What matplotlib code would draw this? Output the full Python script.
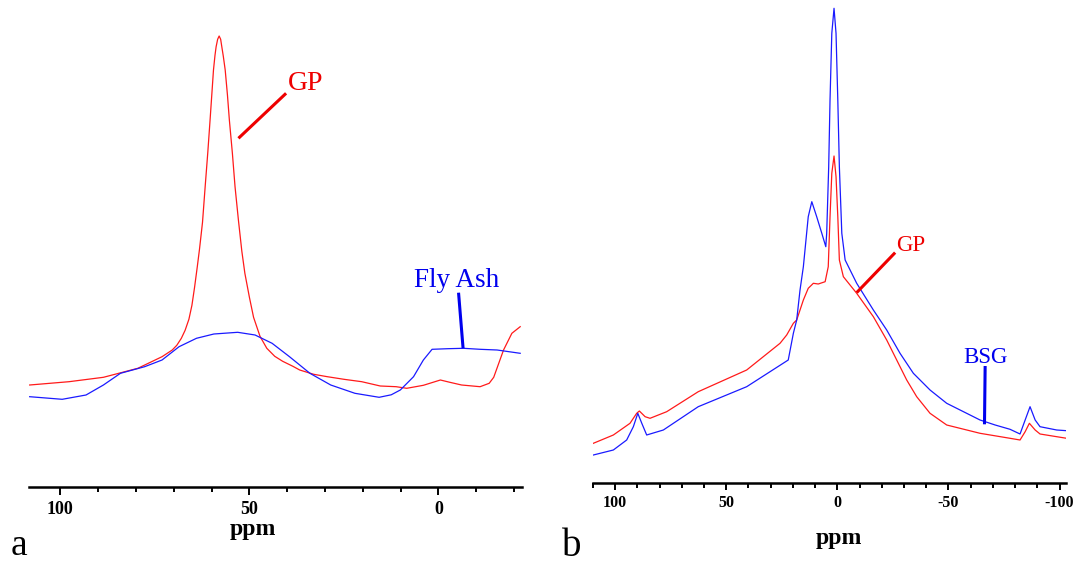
import matplotlib.pyplot as plt
from matplotlib.ticker import MultipleLocator, FixedLocator

plt.rcParams['font.family'] = ['Liberation Serif', 'DejaVu Serif']

# ---- panel a : GP vs fly ash (ppm, intensity a.u.) ----
gp_a_ppm = [108.1, 97.7, 88.6, 79.5, 73.1, 70.4, 69.2, 68.0, 67.0, 66.0, 65.2, 64.5, 63.8, 63.2, 62.4,
            61.7, 61.0, 60.4, 59.9, 59.5, 59.1, 58.8, 58.4, 58.0, 57.6, 57.3, 56.9, 56.4, 55.8,
            55.3, 54.5, 53.8, 52.9, 52.0, 51.2, 50.0, 48.9, 47.2, 45.4, 43.3, 41.2, 38.5, 36.7,
            33.0, 29.4, 25.0, 20.3, 15.4, 11.2, 8.4, 4.0, -0.5, -3.0, -6.1, -11.0, -13.4, -14.6,
            -17.2, -19.4, -21.6]
gp_a_int = [102.3, 105.6, 110.0, 119.0, 130.6, 137.3, 142.0, 149.0, 157.0, 168.0, 182.0, 200.0, 220.0, 238.0, 265.0,
            300.6, 335.0, 367.3, 395.0, 417.3, 432.0, 440.6, 448.0, 451.3, 448.0, 440.6, 431.0, 417.3, 392.0,
            367.3, 334.0, 300.6, 267.0, 236.0, 214.0, 190.0, 170.0, 151.0, 139.0, 131.0, 126.0, 121.0, 117.3,
            113.0, 110.6, 108.0, 105.6, 101.3, 100.6, 99.0, 102.0, 107.3, 105.0, 102.3, 100.6, 104.0, 110.0,
            137.3, 154.0, 160.6]

fa_ppm = [108.1, 99.5, 93.2, 88.6, 84.1, 77.7, 73.1, 68.6, 64.0, 59.4, 53.1, 48.5, 44.0,
          39.4, 34.0, 28.5, 22.1, 15.7, 12.5, 10.1, 6.6, 4.0, 1.7, -2.5, -6.6, -11.0, -15.5, -21.6]
fa_int = [90.6, 88.0, 92.3, 102.3, 114.0, 120.6, 127.3, 140.6, 149.0, 153.3, 155.0, 152.3, 144.0,
          130.6, 114.0, 102.3, 94.0, 90.0, 92.5, 97.3, 110.6, 127.3, 138.0, 138.6, 139.0, 138.0, 137.3, 134.0]

# ---- panel b : GP vs BSG ----
gp_b_ppm = [109.8, 100.8, 93.3, 90.3, 89.1, 86.5, 84.3, 76.8, 62.6, 40.8, 25.8, 22.8, 19.8,
            18.3, 15.3, 13.1, 10.8, 8.6, 5.5, 4.1, 3.3, 2.5, 1.5, 0.6, -0.2, -0.9, -2.7, -8.7,
            -16.2, -22.2, -26.7, -31.2, -35.7, -41.7, -49.2, -64.2, -77.7, -82.2, -84.5, -86.4,
            -89.0, -91.2, -98.7, -103.2]
gp_b_int = [39.2, 47.5, 59.2, 69.2, 71.5, 65.8, 64.2, 70.8, 90.8, 112.5, 139.2, 147.5, 159.2,
            162.5, 182.5, 194.2, 199.2, 198.5, 200.8, 215.8, 265.8, 309.2, 326.5, 305.8, 265.8, 222.5, 205.8, 189.2,
            165.8, 142.5, 122.5, 102.5, 85.8, 69.2, 57.5, 49.2, 44.2, 42.5, 50.8, 59.2,
            52.5, 48.5, 45.8, 44.2]

bsg_ppm = [109.8, 100.8, 94.8, 91.8, 89.8, 88.0, 85.8, 78.3, 62.6, 40.8, 22.1, 19.8, 18.3, 16.8,
           15.3, 13.1, 11.5, 9.3, 7.0, 5.2, 4.8, 3.9, 3.3, 2.5, 1.5, 0.6, -0.2, -0.9, -2.0,
           -3.5, -8.7, -16.2, -22.2, -28.2, -34.2, -41.7, -49.2, -64.2, -71.0, -77.7, -82.2,
           -84.5, -86.7, -89.0, -91.2, -98.7, -103.2]
bsg_int = [27.5, 32.5, 42.5, 55.8, 69.2, 59.2, 47.5, 52.5, 75.8, 95.8, 122.5, 149.2, 162.5, 192.5,
           215.8, 265.8, 280.8, 265.8, 249.2, 235.8, 249.2, 315.8, 382.5, 449.2, 474.2, 449.2, 382.5, 315.8, 249.2,
           222.5, 199.2, 172.5, 152.5, 129.2, 109.2, 92.5, 79.2, 62.5, 57.5, 53.2, 48.5,
           62.5, 75.8, 62.5, 55.8, 52.5, 51.8]

RED = '#ff1a1a'
BLUE = '#1a1aff'

W, H = 1075, 564
fig = plt.figure(figsize=(W / 100, H / 100), dpi=100)


def px_axes(x0, x1, ytop, ybot):
    return fig.add_axes([x0 / W, 1 - ybot / H, (x1 - x0) / W, (ybot - ytop) / H])


def style_axis(ax, ticks, size, major_len, minor_len):
    for s in ['left', 'right', 'top']:
        ax.spines[s].set_visible(False)
    ax.spines['bottom'].set_linewidth(1.8)
    ax.set_yticks([])
    ax.xaxis.set_major_locator(FixedLocator(ticks))
    ax.xaxis.set_minor_locator(MultipleLocator(10))
    ax.set_xticklabels([str(t) for t in ticks], fontweight='bold', fontsize=size)
    ax.tick_params(axis='x', which='major', length=major_len, width=1.4, pad=4.5)
    ax.tick_params(axis='x', which='minor', length=minor_len, width=1.4)
    ax.patch.set_visible(False)


# panel a
ax1 = px_axes(29.3, 521.7, 20, 487.3)
ax1.plot(gp_a_ppm, gp_a_int, color=RED, lw=0.9)
ax1.plot(fa_ppm, fa_int, color=BLUE, lw=0.9)
ax1.set_xlim(108.2, -22.0)
ax1.set_ylim(0, 467.3)
style_axis(ax1, [100, 50, 0], 13, 5.5, 3.8)
ax1.plot([40.3, 52.9], [394.0, 349.0], color='#ee0000', lw=2.2, solid_capstyle='butt')
ax1.text(35.1, 397.3, 'GP', color='#ee0000', fontsize=20, ha='center', va='baseline')
ax1.plot([-5.3, -6.5], [194.6, 139.0], color='#0000ee', lw=2.2, solid_capstyle='butt')
ax1.text(-4.9, 200.0, 'Fly Ash', color='#0000ee', fontsize=19.5, ha='center', va='baseline')

# panel b
ax2 = px_axes(592.9, 1065.6, 0, 482.5)
ax2.plot(gp_b_ppm, gp_b_int, color=RED, lw=0.9)
ax2.plot(bsg_ppm, bsg_int, color=BLUE, lw=0.9)
ax2.set_xlim(110.0, -102.7)
ax2.set_ylim(0, 482.5)
style_axis(ax2, [100, 50, 0, -50, -100], 11.5, 4.8, 3.4)
ax2.plot([-26.0, -8.7], [229.9, 189.9], color='#ee0000', lw=2.2, solid_capstyle='butt')
ax2.text(-33.0, 231.5, 'GP', color='#ee0000', fontsize=16.5, ha='center', va='baseline')
ax2.plot([-66.5, -66.2], [116.5, 58.2], color='#0000ee', lw=2.2, solid_capstyle='butt')
ax2.text(-66.8, 119.9, 'BSG', color='#0000ee', fontsize=16.5, ha='center', va='baseline')

# axis titles and panel letters
fig.text(253 / W, 1 - 535.5 / H, 'ppm', fontsize=17, fontweight='bold', ha='center', va='baseline')
fig.text(839.2 / W, 1 - 544.2 / H, 'ppm', fontsize=17, fontweight='bold', ha='center', va='baseline')
fig.text(11 / W, 1 - 555 / H, 'a', fontsize=27, ha='left', va='baseline')
fig.text(562 / W, 1 - 556 / H, 'b', fontsize=28, ha='left', va='baseline')

fig.savefig('out.png', dpi=100)
